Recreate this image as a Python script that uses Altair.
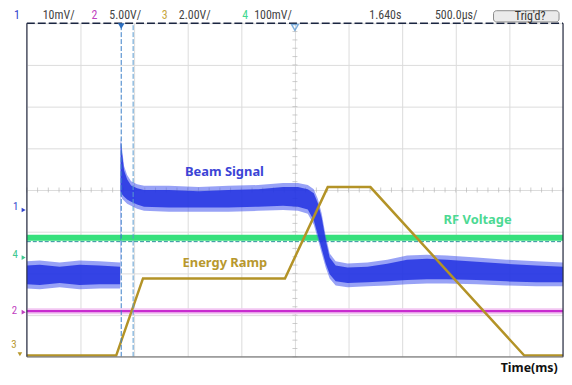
import altair as alt
import pandas as pd

# Horizontal: 0.5 ms / division, 10 divisions shown (0..5 ms)
# Vertical: screen divisions 0..8
grid_t = [0, 0.5, 1, 1.5, 2, 2.5, 3, 3.5, 4, 4.5, 5]
grid_div = [0, 1, 2, 3, 4, 5, 6, 7, 8]

# Channel 1 - beam signal (noisy band: upper / lower envelope, in divisions)
beam_t = [0, 0.120, 0.306, 0.491, 0.676, 0.870, 0.875, 0.889, 0.907, 0.935, 0.972,
          1.028, 1.093, 1.324, 1.602, 1.880, 2.157, 2.389, 2.528, 2.620, 2.676,
          2.713, 2.750, 2.787, 2.824, 2.880, 2.991, 3.176, 3.361, 3.546, 3.731,
          3.917, 4.194, 4.472, 4.750, 5.0]
beam_hi = [2.29, 2.31, 2.26, 2.31, 2.29, 2.26, 5.26, 4.95, 4.57, 4.36, 4.21,
           4.14, 4.10, 4.10, 4.07, 4.10, 4.12, 4.17, 4.17, 4.12, 4.02,
           3.79, 3.43, 2.90, 2.48, 2.29, 2.24, 2.26, 2.33, 2.43, 2.45,
           2.43, 2.38, 2.33, 2.29, 2.26]
beam_lo = [1.64, 1.62, 1.67, 1.62, 1.64, 1.64, 3.86, 3.79, 3.74, 3.67, 3.62,
           3.55, 3.50, 3.48, 3.48, 3.48, 3.50, 3.52, 3.50, 3.43, 3.17,
           2.83, 2.48, 2.14, 1.88, 1.71, 1.67, 1.69, 1.71, 1.74, 1.76,
           1.76, 1.74, 1.71, 1.69, 1.69]

# Channel 3 - energy ramp
ramp_t = [0, 0.833, 1.083, 2.407, 2.806, 3.204, 4.639, 5.0]
ramp_div = [0.03, 0.03, 1.88, 1.88, 4.07, 4.07, 0.03, 0.03]

# Channel 4 - RF voltage, channel 2 level
rf_level = 2.857
rf_ref = 2.762
ch2_level = 1.095

cursor_t = [0.880, 0.991]
trigger_t = 2.5

header_t = [-0.12, 0.148, 0.602, 0.769, 1.259, 1.417, 2.009, 2.120, 3.194, 3.806]
header_txt = ["1", "10mV/", "2", "5.00V/", "3", "2.00V/", "4", "100mV/", "1.640s", "500.0µs/"]
header_col = ["#3344cc", "#444444", "#c040c0", "#444444", "#c8a840", "#444444",
              "#40d890", "#444444", "#444444", "#444444"]

labels_txt = ["Beam Signal", "Energy Ramp", "RF Voltage"]
labels_t = [1.843, 1.847, 4.204]
labels_div = [4.43, 2.24, 3.29]
labels_col = ["#3b44d6", "#b8982e", "#4cd993"]

gnd_txt = ["1", "4", "2", "3"]
gnd_t = [-0.105, -0.11, -0.115, -0.12]
gnd_div = [3.60, 2.45, 1.10, 0.29]
gnd_col = ["#3344cc", "#40c890", "#c040c0", "#b8982e"]
gnd_mark_div = [3.52, 2.38, 1.07]

HFONT = "Liberation Sans Narrow, Roboto Condensed, DejaVu Sans Condensed, Liberation Sans"

X = alt.X("t:Q", scale=alt.Scale(domain=[0, 5], nice=False, zero=False),
          axis=alt.Axis(values=grid_t, grid=True, labels=False, ticks=False, domain=False,
                        title=None, gridColor="#dcdcdc"))
Y = alt.Y("d:Q", scale=alt.Scale(domain=[0, 8], nice=False, zero=False),
          axis=alt.Axis(values=grid_div, grid=True, labels=False, ticks=False, domain=False,
                        title=None, gridColor="#dcdcdc"))

beam = pd.DataFrame({"t": beam_t, "hi": beam_hi, "lo": beam_lo})
beam["hi2"] = beam["hi"] - 0.1
beam["lo2"] = beam["lo"] + 0.1

base = alt.Chart(pd.DataFrame({"t": [0], "d": [0]})).encode(x=X, y=Y).mark_point(opacity=0)

# minor ticks on centre axes
mt = pd.DataFrame({"t": [i * 0.1 for i in range(51)], "d": [4] * 51})
minor_x = alt.Chart(mt).mark_tick(orient="vertical", size=5, thickness=1, color="#b8b8b8").encode(
    x="t:Q", y="d:Q")
my = pd.DataFrame({"t": [trigger_t] * 41, "d": [i * 0.2 for i in range(41)]})
minor_y = alt.Chart(my).mark_tick(orient="horizontal", size=5, thickness=1, color="#b8b8b8").encode(
    x="t:Q", y="d:Q")

# borders
top = alt.Chart(pd.DataFrame({"t": [0], "t2": [5], "d": [8]})).mark_rule(
    color="#1a2540", strokeWidth=1.5, strokeDash=[8, 3]).encode(x="t:Q", x2="t2:Q", y="d:Q")
bottom = alt.Chart(pd.DataFrame({"t": [0], "t2": [5], "d": [0]})).mark_rule(
    color="#808080", strokeWidth=1.2).encode(x="t:Q", x2="t2:Q", y="d:Q")
sides = alt.Chart(pd.DataFrame({"t": [0, 5], "d": [0, 0], "d2": [8, 8]})).mark_rule(
    color="#2a2f45", strokeWidth=1.2).encode(x="t:Q", y="d:Q", y2="d2:Q")

# channel 2
ch2_band = alt.Chart(pd.DataFrame({"t": [0], "t2": [5], "d": [ch2_level]})).mark_rule(
    color="#f2c6f2", strokeWidth=6).encode(x="t:Q", x2="t2:Q", y="d:Q")
ch2 = alt.Chart(pd.DataFrame({"t": [0], "t2": [5], "d": [ch2_level]})).mark_rule(
    color="#c82ccf", strokeWidth=2.2).encode(x="t:Q", x2="t2:Q", y="d:Q")

# channel 4
rf_dash = alt.Chart(pd.DataFrame({"t": [0], "t2": [5], "d": [rf_ref]})).mark_rule(
    color="#2a8f9a", strokeWidth=1, strokeDash=[4, 2]).encode(x="t:Q", x2="t2:Q", y="d:Q")
rf = alt.Chart(pd.DataFrame({"t": [0], "t2": [5], "d": [rf_level]})).mark_rule(
    color="#36e07c", strokeWidth=6).encode(x="t:Q", x2="t2:Q", y="d:Q")

# cursors
cur = alt.Chart(pd.DataFrame({"t": cursor_t, "d": [0, 0], "d2": [8, 8],
                              "c": ["#3a7ec8", "#5a9ad0"]})).mark_rule(
    strokeWidth=1, strokeDash=[5, 2]).encode(x="t:Q", y="d:Q", y2="d2:Q",
                                              color=alt.Color("c:N", scale=None))

# beam signal
beam_outer = alt.Chart(beam).mark_area(color="#4455ee", opacity=0.55, clip=True).encode(
    x="t:Q", y="hi:Q", y2="lo:Q")
beam_inner = alt.Chart(beam).mark_area(color="#2232e2", opacity=0.85, clip=True).encode(
    x="t:Q", y="hi2:Q", y2="lo2:Q")

# energy ramp
ramp = alt.Chart(pd.DataFrame({"t": ramp_t, "d": ramp_div})).mark_line(
    color="#b39327", strokeWidth=2.5).encode(x="t:Q", y="d:Q")

# markers at top
cur_mark = alt.Chart(pd.DataFrame({"t": [cursor_t[0]], "d": [7.93]})).mark_point(
    shape="triangle-down", filled=True, size=45, color="#2d6fc0", opacity=1).encode(x="t:Q", y="d:Q")
trig_mark = alt.Chart(pd.DataFrame({"t": [trigger_t], "d": [7.9]})).mark_point(
    shape="triangle-down", filled=False, size=45, color="#4a90d0", strokeWidth=1.5).encode(x="t:Q", y="d:Q")

# channel labels
lab = alt.Chart(pd.DataFrame({"t": labels_t, "d": labels_div, "txt": labels_txt, "c": labels_col})).mark_text(
    font="Noto Sans", fontSize=13, fontWeight="bold", align="center", baseline="middle").encode(
    x="t:Q", y="d:Q", text="txt:N", color=alt.Color("c:N", scale=None))

time_lab = alt.Chart(pd.DataFrame({"t": [4.685], "d": [-0.27], "txt": ["Time(ms)"]})).mark_text(
    font="Noto Sans", fontSize=12.5, fontWeight="bold", align="center", baseline="middle",
    color="#111111").encode(x="t:Q", y="d:Q", text="txt:N")

# header
hdr = alt.Chart(pd.DataFrame({"t": header_t, "d": [8.19] * len(header_t), "txt": header_txt,
                              "c": header_col})).mark_text(
    font=HFONT, fontSize=12, align="left", baseline="middle").encode(
    x="t:Q", y="d:Q", text="txt:N", color=alt.Color("c:N", scale=None))
btn = alt.Chart(pd.DataFrame({"t": [4.352], "t2": [4.963], "d": [8.30], "d2": [8.03]})).mark_rect(
    fill="#ebebeb", stroke="#8a8a8a", strokeWidth=1, cornerRadius=3).encode(
    x="t:Q", x2="t2:Q", y="d:Q", y2="d2:Q")
btn_txt = alt.Chart(pd.DataFrame({"t": [4.694], "d": [8.17], "txt": ["Trig'd?"]})).mark_text(
    font=HFONT, fontSize=12, align="center", baseline="middle", color="#333333").encode(
    x="t:Q", y="d:Q", text="txt:N")

# ground markers on the left
gnd = alt.Chart(pd.DataFrame({"t": gnd_t, "d": gnd_div, "txt": gnd_txt, "c": gnd_col})).mark_text(
    font="Liberation Sans Narrow, Roboto Condensed, Liberation Sans", fontSize=11,
    align="center", baseline="middle").encode(
    x="t:Q", y="d:Q", text="txt:N", color=alt.Color("c:N", scale=None))
gnd_m = alt.Chart(pd.DataFrame({"t": [-0.03] * 3, "d": gnd_mark_div, "c": gnd_col[:3]})).mark_point(
    shape="triangle-right", filled=True, size=22, opacity=1).encode(
    x="t:Q", y="d:Q", color=alt.Color("c:N", scale=None))
gnd3 = alt.Chart(pd.DataFrame({"t": [-0.065], "d": [0.06]})).mark_point(
    shape="triangle-down", filled=True, size=22, opacity=1, color="#b8982e").encode(x="t:Q", y="d:Q")

chart = alt.layer(
    base, minor_x, minor_y, ch2_band, rf_dash, rf, ch2, beam_outer, beam_inner, ramp, cur,
    top, bottom, sides, cur_mark, trig_mark, lab, time_lab, btn, hdr, btn_txt, gnd, gnd_m, gnd3
).properties(
    width=540, height=336,
    autosize=alt.AutoSizeParams(type="none"),
    padding={"left": 19, "top": 14, "right": 1, "bottom": 19},
    background="white",
).configure_view(stroke=None)

chart.save("out.html", embed_options={"renderer": "svg", "actions": False})
